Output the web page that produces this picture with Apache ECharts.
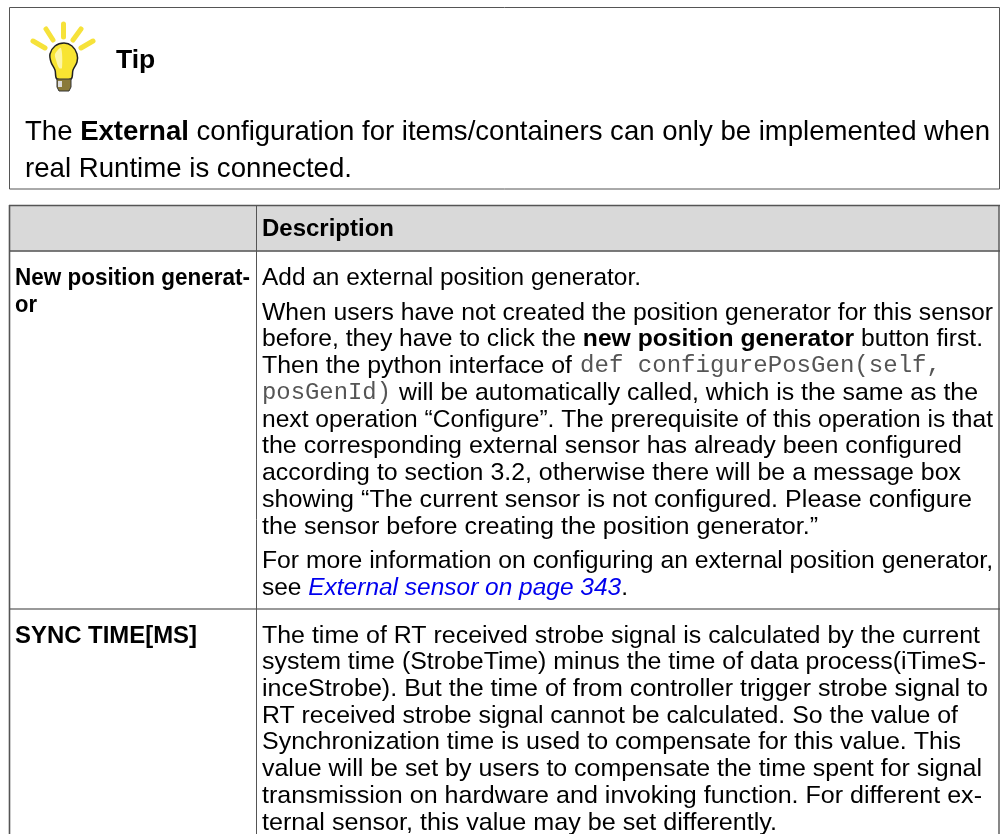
<!DOCTYPE html>
<html><head><meta charset="utf-8"><style>html,body{margin:0;background:#fff}#c{width:1000px;height:834px}</style>
<script src="https://cdn.jsdelivr.net/npm/echarts@6/dist/echarts.min.js"></script></head><body><div id="c"></div>
<script>
const tipTitle = 'Tip';
const tipLines = ['The {b|External} configuration for items/containers can only be implemented when','real Runtime is connected.'];
const headerCells = ['Description'];
const rowHead1 = ['New position generat-','or'];
const rowHead2 = ['SYNC TIME[MS]'];
const row1Lines = [
 'Add an external position generator.',
 'When users have not created the position generator for this sensor',
 'before, they have to click the {b|new position generator} button first.',
 ['Then the python interface of','{m|def configurePosGen(self,}'],
 ['{m|posGenId)}','will be automatically called, which is the same as the'],
 'next operation “Configure”. The prerequisite of this operation is that',
 'the corresponding external sensor has already been configured',
 'according to section 3.2, otherwise there will be a message box',
 'showing “The current sensor is not configured. Please configure',
 'the sensor before creating the position generator.”',
 'For more information on configuring an external position generator,',
 'see {l|External sensor on page 343}.'];
const row2Lines = [
 'The time of RT received strobe signal is calculated by the current',
 'system time (StrobeTime) minus the time of data process(iTimeS-',
 'inceStrobe). But the time of from controller trigger strobe signal to',
 'RT received strobe signal cannot be calculated. So the value of',
 'Synchronization time is used to compensate for this value. This',
 'value will be set by users to compensate the time spent for signal',
 'transmission on hardware and invoking function. For different ex-',
 'ternal sensor, this value may be set differently.'];
// layout
const ends1=[641,993,983,[[262,572],[580,941]],[[262,391],[399,978]],993,962,961,972,818,993,628];
const ends2=[980,986,988,958,961,982,982,777];
const ys1=[278,313,339.5,366,393,420,446.5,473.5,500,527,561,588];
const FF='"Liberation Sans",Arial,sans-serif', MF='"Liberation Mono",monospace', C='#000', fs=24.2, tf=27.2, bf=24.2, mf=24;
const rich={b:{fontWeight:'bold',fontFamily:FF,fontSize:fs,fill:C},
 m:{fontFamily:MF,fontSize:mf,fill:'#555'},
 l:{fontStyle:'italic',fontFamily:FF,fontSize:fs,fill:'#0000ee'}};
const richT={b:{fontWeight:'bold',fontFamily:FF,fontSize:tf,fill:C}};
const cv=document.createElement('canvas').getContext('2d');
function widthOf(s,size,weight){
  let w=0;
  s.split(/(\{[a-z]\|[^}]*\})/).forEach(p=>{
    const m=p.match(/^\{([a-z])\|(.*)\}$/);
    let font=(weight||'')+' '+size+'px '+FF, t=p;
    if(m){t=m[2];font=m[1]=='b'?'bold '+size+'px '+FF:m[1]=='m'?mf+'px '+MF:'italic '+size+'px '+FF;}
    cv.font=font; w+=cv.measureText(t).width;
  });
  return w;
}
const els=[];
function txt(s,x,y,o={},end){
  const size=o.fontSize||fs, el={type:'text',x,y,style:Object.assign({text:s,fontFamily:FF,fontSize:fs,fill:C,verticalAlign:'middle',rich},o)};
  if(end) el.scaleX=(end-x)/widthOf(s,size,o.fontWeight);
  els.push(el);
}
function box(x,y,w,h,fill,stroke,lw){els.push({type:'rect',shape:{x,y,width:w,height:h},style:{fill:fill||'none',stroke:stroke||'none',lineWidth:lw||0}});}
function ln(x1,y1,x2,y2,lw,col){els.push({type:'line',shape:{x1,y1,x2,y2},style:{stroke:col||'#555',lineWidth:lw||1}});}
box(9.5,7.5,990,181.5,'#fff','#555',1);
box(9.5,205.5,990,46,'#d9d9d9');
ln(9,205.5,1000,205.5,1.6); ln(9,251,1000,251,1.6); ln(9,609,1000,609,1.3,'#777');
ln(9.5,205,9.5,834,1.6); ln(256.5,205,256.5,834,1); ln(999,205,999,834,1.4);
// bulb
[[45,48,33,41],[53,40,46,29],[63.5,37,63.5,24],[73,40,81,29],[81,48,93,41]].forEach(r=>els.push({type:'line',shape:{x1:r[0],y1:r[1],x2:r[2],y2:r[3]},style:{stroke:'#f6e23a',lineWidth:5,lineCap:'round'}}));
els.push({type:'polygon',shape:{smooth:0.35,points:[[64,43],[72,46],[77,54],[77,62],[73,70],[71,79],[57,79],[55,70],[51,62],[50,54],[55,46]]},style:{fill:'#f8e432',stroke:'#222',lineWidth:1.5}});
els.push({type:'polygon',shape:{points:[[57,79],[71,79],[71,87],[69,91],[59,91],[57,87]]},style:{fill:'#8a7a3a',stroke:'#333',lineWidth:1}});
els.push({type:'rect',shape:{x:58,y:81,width:4,height:6},style:{fill:'#ddd'}});
els.push({type:'polygon',shape:{smooth:0.3,points:[[61,48],[62,68],[59,68],[56,60],[55,54]]},style:{fill:'#fdf6a8'}});
txt(tipTitle,116,60.5,{fontWeight:'bold',fontSize:26.5});
tipLines.forEach((s,i)=>txt(s,25,132.5+i*37,{fontSize:tf,rich:richT},i==0?990:352));
txt(headerCells[0],262,229.5,{fontWeight:'bold',fontSize:bf},394);
rowHead1.forEach((s,i)=>txt(s,15,278+i*27,{fontWeight:'bold',fontSize:bf},i==0?250:37));
rowHead2.forEach(s=>txt(s,15,636,{fontWeight:'bold',fontSize:bf},197));
row1Lines.forEach((s,i)=>{
  if(Array.isArray(s)) s.forEach((p,j)=>txt(p,ends1[i][j][0],ys1[i],{},ends1[i][j][1]));
  else txt(s,262,ys1[i],{},ends1[i]);
});
row2Lines.forEach((s,i)=>txt(s,262,636+i*26.7,{},ends2[i]));
const chart=echarts.init(document.getElementById('c'),null,{renderer:'canvas'});
chart.setOption({animation:false,graphic:{elements:els}});
</script></body></html>
